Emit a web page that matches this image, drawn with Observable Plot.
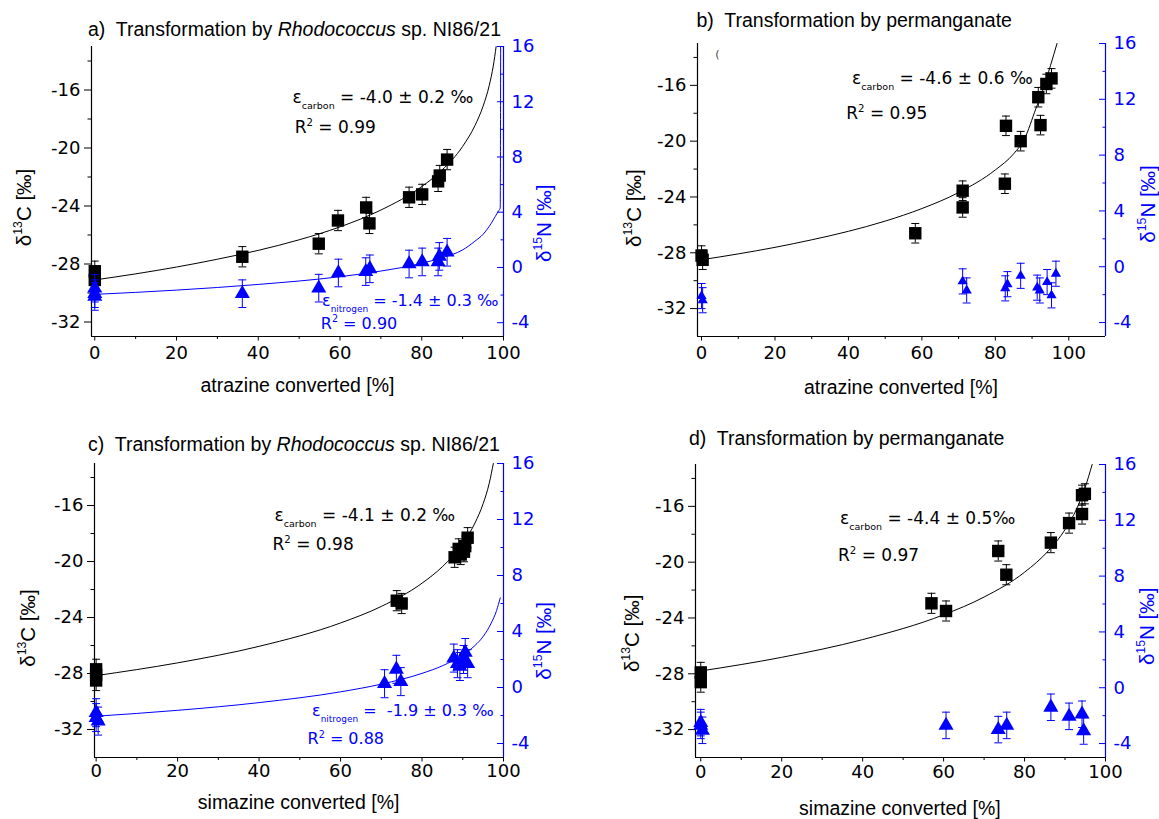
<!DOCTYPE html>
<html><head><meta charset="utf-8">
<script src="https://cdn.jsdelivr.net/npm/d3@7"></script>
<script src="https://cdn.jsdelivr.net/npm/@observablehq/plot@0.6"></script>
<style>
body{margin:0;background:#fff}
#page{position:relative;width:1159px;height:819px;background:#fff;overflow:hidden}
.panel{position:absolute}
.panel svg{position:absolute;left:0;top:0;overflow:visible}
.title{position:absolute;font-family:"Liberation Sans",Arial,sans-serif;font-size:19.5px;line-height:20px;white-space:pre;color:#000}
</style></head><body><div id="page"></div><script>
// ---------------- data ----------------
// a) atrazine, Rhodococcus sp. NI86/21
const aCarbonX = [0, 0, 36.1, 54.8, 59.5, 66.4, 67.2, 76.9, 80.1, 84.0, 84.4, 86.2];
const aCarbonY = [-28.5, -29.1, -27.5, -26.6, -25.0, -24.1, -25.2, -23.4, -23.2, -22.3, -21.9, -20.8];
const aNitrogenX = [0, 0, 0, 36.1, 54.8, 59.6, 66.3, 67.3, 76.9, 80.1, 84.0, 84.3, 86.2];
const aNitrogenY = [-1.5, -1.9, -2.1, -1.9, -1.5, -0.4, -0.3, -0.1, 0.25, 0.4, 0.4, 0.8, 1.1];
const aCarbonErr = 0.7, aNitrogenErr = 1.0;
const aCarbonFitX = [0, 10, 20, 30, 40, 50, 60, 70, 80, 85, 90, 93, 95, 96.5, 97.5, 98.2];
const aCarbonFitY = [-29.1, -28.68, -28.21, -27.67, -27.06, -26.33, -25.44, -24.28, -22.66, -21.51, -19.89, -18.46, -17.12, -15.7, -14.34, -13.0];
const aNitrogenFitX = [0, 20, 40, 60, 70, 80, 85, 90, 93, 95, 97, 98, 98.8, 99.2, 99.3];
const aNitrogenFitY = [-1.95, -1.64, -1.23, -0.67, -0.26, 0.3, 0.71, 1.27, 1.9, 2.4, 3.2, 3.7, 4.1, 4.3, 16];

// b) atrazine, permanganate
const bCarbonX = [0, 0.3, 58.2, 71.1, 71.1, 82.9, 82.6, 86.9, 91.7, 92.3, 93.9, 95.3];
const bCarbonY = [-28.2, -28.5, -26.6, -23.55, -24.75, -18.9, -23.05, -20.0, -16.85, -18.85, -15.9, -15.5];
const bNitrogenX = [0, 0.3, 71.1, 72.2, 82.7, 83.3, 86.9, 91.4, 92.1, 94.1, 95.3, 96.5];
const bNitrogenY = [-2.1, -2.4, -1.05, -1.7, -1.55, -1.25, -0.65, -1.5, -1.7, -1.1, -2.05, -0.5];
const bCarbonErr = 0.7, bNitrogenErr = 0.9;
const bCarbonFitX = [0, 10, 20, 30, 40, 50, 60, 70, 80, 85, 88, 91, 93, 95, 96.8];
const bCarbonFitY = [-28.5, -28.08, -27.61, -27.07, -26.46, -25.73, -24.83, -23.68, -22.06, -20.9, -19.8, -17.7, -16.3, -14.6, -13.0];

// c) simazine, Rhodococcus sp. NI86/21
const cCarbonX = [0, 0, 0, 73.8, 75.0, 88.0, 89.0, 89.5, 90.3, 90.6, 91.2];
const cCarbonY = [-27.7, -28.1, -28.5, -22.8, -23.0, -19.7, -19.1, -19.5, -19.3, -18.9, -18.3];
const cNitrogenX = [0, 0, 0.5, 70.8, 73.7, 74.8, 87.8, 88.7, 89.3, 90.2, 90.6, 91.2];
const cNitrogenY = [-1.8, -2.15, -2.4, 0.27, 1.3, 0.42, 2.1, 1.7, 1.5, 2.0, 2.5, 1.7];
const cCarbonErr = 0.72, cNitrogenErr = 1.0;
const cCarbonFitX = [0, 20, 40, 60, 70, 80, 85, 90, 93, 95, 96.5, 97.5];
const cCarbonFitY = [-28.15, -27.24, -26.06, -24.39, -23.21, -21.55, -20.37, -18.71, -17.25, -15.87, -14.41, -13.0];
const cNitrogenFitX = [0, 20, 40, 60, 70, 80, 85, 90, 93, 95, 97, 98.3, 99.2];
const cNitrogenFitY = [-2.05, -1.63, -1.08, -0.31, 0.24, 1.01, 1.55, 2.33, 3.0, 3.64, 4.61, 5.5, 6.4];

// d) simazine, permanganate
const dCarbonX = [0, 0, 57.0, 60.6, 73.5, 75.5, 86.5, 91.0, 94.2, 94.2, 94.9];
const dCarbonY = [-27.9, -28.6, -22.95, -23.5, -19.2, -20.9, -18.6, -17.2, -16.55, -15.2, -15.1];
const dNitrogenX = [0, 0, 0.4, 60.6, 73.5, 75.6, 86.5, 91.0, 94.2, 94.6];
const dNitrogenY = [-2.5, -2.7, -3.05, -2.7, -3.0, -2.7, -1.4, -2.05, -1.9, -3.1];
const dCarbonErr = 0.72, dNitrogenErr = 0.95;
const dCarbonFitX = [0, 20, 40, 60, 70, 80, 86, 90, 93, 95, 96.7];
const dCarbonFitY = [-27.8, -26.82, -25.55, -23.77, -22.5, -20.72, -19.15, -17.67, -16.1, -14.62, -13.0];

// tick values
const xMajorTicks = [0, 20, 40, 60, 80, 100];
const xMinorTicks = [10, 30, 50, 70, 90];
const carbonMajorTicks = [-32, -28, -24, -20, -16];
const carbonMinorTicks = [-30, -26, -22, -18, -14];
const nitrogenMajorTicks = [-4, 0, 4, 8, 12, 16];
const nitrogenMinorTicks = [-2, 2, 6, 10, 14];

// texts
const xTitles = ["atrazine converted [%]", "atrazine converted [%]", "simazine converted [%]", "simazine converted [%]"];
const carbonAxisTitle = "δ^{13}C [‰]";
const nitrogenAxisTitle = "δ^{15}N [‰]";

// ---------------- drawing ----------------
const BLUE = "#0000ff";
const NUM = "'DejaVu Sans', sans-serif";
const TXT = "'Liberation Sans', Arial, sans-serif";
const cap = {draw(ctx, size) { const w = Math.sqrt(size) / 2; ctx.moveTo(-w, 0); ctx.lineTo(w, 0); }};
const pts = (xs, ys) => xs.map((x, i) => ({x, y: ys[i]}));

const panels = [
  {left: 0, top: 0, width: 580, height: 410, m: [46, 77, 74, 91], xDomain: [-0.8, 100], cDomain: [-33, -13],
   title: {left: 88, top: 19, html: "a)&nbsp; Transformation by <i>Rhodococcus</i> sp. NI86/21"},
   carbon: pts(aCarbonX, aCarbonY), cErr: aCarbonErr, nitrogen: pts(aNitrogenX, aNitrogenY), nErr: aNitrogenErr,
   cFit: pts(aCarbonFitX, aCarbonFitY), nFit: pts(aNitrogenFitX, aNitrogenFitY),
   cNotes: [{x: 48.4, y: -16.5, t: "ε_{carbon} = -4.0 ± 0.2 ‰"}, {x: 48.9, y: -18.6, t: "R^{2} = 0.99"}],
   nNotes: [{x: 55.6, y: -2.45, t: "ε_{nitrogen} = -1.4 ± 0.3 ‰"}, {x: 55.3, y: -4.1, t: "R^{2} = 0.90"}],
   xTitle: xTitles[0], xTitleX: 49.6, xTitleDy: 49, xPad: 5, cTitleY: -24.1, cTitleDx: -67, nTitleY: 3.2, nTitleDx: 41,
   triR: 5.6},
  {left: 580, top: 0, width: 579, height: 410, m: [43, 54, 74, 117], xDomain: [-1.1, 110], cDomain: [-34, -13],
   title: {left: 116.5, top: 10, html: "b)&nbsp; Transformation by permanganate"},
   carbon: pts(bCarbonX, bCarbonY), cErr: bCarbonErr, nitrogen: pts(bNitrogenX, bNitrogenY), nErr: bNitrogenErr,
   cFit: pts(bCarbonFitX, bCarbonFitY), nFit: null,
   cNotes: [{x: 41.0, y: -15.5, t: "ε_{carbon} = -4.6 ± 0.6 ‰"}, {x: 39.4, y: -18.0, t: "R^{2} = 0.95"}],
   nNotes: [], stray: true,
   xTitle: xTitles[1], xTitleX: 54.3, xTitleDy: 51, xPad: 5, cTitleY: -24.8, cTitleDx: -63, nTitleY: 4.5, nTitleDx: 43,
   triR: 3.8},
  {left: 0, top: 410, width: 580, height: 409, m: [53, 77, 62, 94], xDomain: [-0.4, 100], cDomain: [-34, -13],
   title: {left: 88, top: 23.5, html: "c)&nbsp; Transformation by <i>Rhodococcus</i> sp. NI86/21"},
   carbon: pts(cCarbonX, cCarbonY), cErr: cCarbonErr, nitrogen: pts(cNitrogenX, cNitrogenY), nErr: cNitrogenErr,
   cFit: pts(cCarbonFitX, cCarbonFitY), nFit: pts(cNitrogenFitX, cNitrogenFitY),
   cNotes: [{x: 43.8, y: -16.7, t: "ε_{carbon} = -4.1 ± 0.2 ‰"}, {x: 43.3, y: -18.8, t: "R^{2} = 0.98"}],
   nNotes: [{x: 53.0, y: -1.68, t: "ε_{nitrogen} =  -1.9 ± 0.3 ‰"}, {x: 51.9, y: -3.69, t: "R^{2} = 0.88"}],
   xTitle: xTitles[2], xTitleX: 49.7, xTitleDy: 45, xPad: 2, cTitleY: -24.75, cTitleDx: -66, nTitleY: 3.33, nTitleDx: 41,
   triR: 5.6},
  {left: 580, top: 410, width: 579, height: 409, m: [54, 54, 62, 115], xDomain: [-1.3, 100], cDomain: [-34, -13],
   title: {left: 109, top: 18, html: "d)&nbsp; Transformation by permanganate"},
   carbon: pts(dCarbonX, dCarbonY), cErr: dCarbonErr, nitrogen: pts(dNitrogenX, dNitrogenY), nErr: dNitrogenErr,
   cFit: pts(dCarbonFitX, dCarbonFitY), nFit: null,
   cNotes: [{x: 34.4, y: -16.9, t: "ε_{carbon} = -4.4 ± 0.5‰"}, {x: 33.9, y: -19.5, t: "R^{2} = 0.97"}],
   nNotes: [],
   xTitle: xTitles[3], xTitleX: 49.2, xTitleDy: 51, xPad: 3, cTitleY: -25.1, cTitleDx: -63, nTitleY: 4.4, nTitleDx: 42,
   triR: 5.6}
];

function richify(svg) {
  d3.select(svg).selectAll("text").each(function () {
    const t = this.textContent;
    if (!/[_^]\{/.test(t)) return;
    const fs = parseFloat(getComputedStyle(this).fontSize) || 16;
    const parts = t.split(/(_\{[^}]*\}|\^\{[^}]*\})/).filter(s => s.length);
    const el = d3.select(this);
    el.text(null);
    let shift = 0;
    for (const s of parts) {
      const ts = el.append("tspan");
      if (s.startsWith("_{")) {
        ts.text(s.slice(2, -1)).attr("font-size", fs * 0.56).attr("dy", fs * 0.36 - shift);
        shift = fs * 0.36;
      } else if (s.startsWith("^{")) {
        ts.text(s.slice(2, -1)).attr("font-size", fs * 0.6).attr("dy", -fs * 0.42 - shift);
        shift = -fs * 0.42;
      } else {
        ts.text(s).attr("dy", -shift);
        shift = 0;
      }
    }
  });
}

const page = document.getElementById("page");
for (const p of panels) {
  const div = document.createElement("div");
  div.className = "panel";
  div.style.left = p.left + "px"; div.style.top = p.top + "px";
  div.style.width = p.width + "px"; div.style.height = p.height + "px";
  page.appendChild(div);

  const common = {
    width: p.width, height: p.height,
    marginTop: p.m[0], marginRight: p.m[1], marginBottom: p.m[2], marginLeft: p.m[3],
    style: {fontFamily: NUM, fontSize: "18px", background: "transparent", color: "black", overflow: "visible"}
  };
  const ce = p.cErr, ne = p.nErr;

  const back = Plot.plot({
    ...common,
    x: {domain: p.xDomain},
    y: {domain: p.cDomain},
    marks: [
      Plot.ruleX([p.xDomain[0]], {stroke: "black", strokeWidth: 1.2}),
      Plot.ruleY([p.cDomain[0]], {stroke: "black", strokeWidth: 1.2}),
      Plot.axisY(carbonMajorTicks, {tickSize: 7, tickPadding: 4, tickFormat: d => String(d), label: null, fontSize: 18}),
      Plot.axisY(carbonMinorTicks, {tickSize: 3.5, tickFormat: () => "", label: null}),
      Plot.axisX(xMajorTicks, {tickSize: 4.5, tickPadding: p.xPad, tickFormat: d => String(d), label: null, fontSize: 18}),
      Plot.axisX(xMinorTicks, {tickSize: 3, tickFormat: () => "", label: null}),
      Plot.line(p.cFit, {x: "x", y: "y", stroke: "black", strokeWidth: 1, curve: "monotone-x", clip: true}),
      Plot.ruleX(p.carbon, {x: "x", y1: d => d.y - ce, y2: d => d.y + ce, stroke: "black", strokeWidth: 1}),
      Plot.dot(p.carbon, {x: "x", y: d => d.y - ce, symbol: cap, r: 4.5, stroke: "black", fill: "none", strokeWidth: 1}),
      Plot.dot(p.carbon, {x: "x", y: d => d.y + ce, symbol: cap, r: 4.5, stroke: "black", fill: "none", strokeWidth: 1}),
      Plot.dot(p.carbon, {x: "x", y: "y", symbol: "square", r: 7, fill: "black", stroke: "none"}),
      Plot.text(p.cNotes, {x: "x", y: "y", text: "t", textAnchor: "start", lineAnchor: "middle", fontSize: 17, fill: "black"}),
      p.stray ? Plot.text(["("], {x: () => 4.3, y: () => -13.8, text: d => d, fontSize: 11, fill: "#444"}) : null,
      Plot.text([carbonAxisTitle], {frameAnchor: "left", y: () => p.cTitleY, text: d => d, rotate: -90, dx: p.cTitleDx,
        textAnchor: "middle", lineAnchor: "middle", fontSize: 20.5, fontFamily: TXT, fill: "black"}),
      Plot.text([p.xTitle], {frameAnchor: "bottom", x: () => p.xTitleX, text: d => d, dy: p.xTitleDy,
        textAnchor: "middle", lineAnchor: "middle", fontSize: 19.5, fontFamily: TXT, fill: "black"})
    ]
  });

  const front = Plot.plot({
    ...common,
    style: {...common.style, color: BLUE},
    x: {domain: p.xDomain, axis: null},
    y: {domain: [-5, 16], axis: null},
    marks: [
      Plot.ruleX([p.xDomain[1]], {stroke: BLUE, strokeWidth: 1.2}),
      Plot.axisY(nitrogenMajorTicks, {anchor: "right", tickSize: -7, tickPadding: 15, tickFormat: d => String(d), label: null, fontSize: 18, color: BLUE}),
      Plot.axisY(nitrogenMinorTicks, {anchor: "right", tickSize: -3.5, tickFormat: () => "", label: null, color: BLUE}),
      p.nFit ? Plot.line(p.nFit, {x: "x", y: "y", stroke: BLUE, strokeWidth: 1, curve: "monotone-x", clip: true}) : null,
      Plot.ruleX(p.nitrogen, {x: "x", y1: d => d.y - ne, y2: d => d.y + ne, stroke: BLUE, strokeWidth: 1}),
      Plot.dot(p.nitrogen, {x: "x", y: d => d.y - ne, symbol: cap, r: 4.5, stroke: BLUE, fill: "none", strokeWidth: 1}),
      Plot.dot(p.nitrogen, {x: "x", y: d => d.y + ne, symbol: cap, r: 4.5, stroke: BLUE, fill: "none", strokeWidth: 1}),
      Plot.dot(p.nitrogen, {x: "x", y: "y", symbol: "triangle", r: p.triR, fill: BLUE, stroke: "none"}),
      Plot.text(p.nNotes, {x: "x", y: "y", text: "t", textAnchor: "start", lineAnchor: "middle", fontSize: 16, fill: BLUE}),
      Plot.text([nitrogenAxisTitle], {frameAnchor: "right", y: () => p.nTitleY, text: d => d, rotate: -90, dx: p.nTitleDx,
        textAnchor: "middle", lineAnchor: "middle", fontSize: 20.5, fontFamily: TXT, fill: BLUE})
    ]
  });

  div.appendChild(back);
  div.appendChild(front);
  richify(back);
  richify(front);

  const t = document.createElement("div");
  t.className = "title";
  t.style.left = p.title.left + "px";
  t.style.top = p.title.top + "px";
  t.innerHTML = p.title.html;
  div.appendChild(t);
}
</script></body></html>
